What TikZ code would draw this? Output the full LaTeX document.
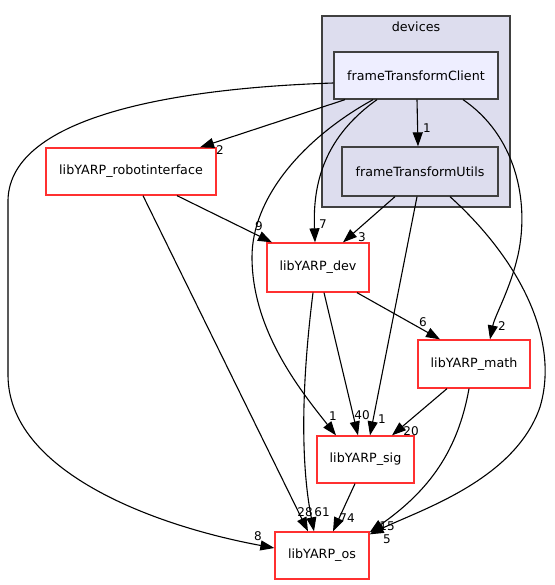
\documentclass[tikz,border=0pt]{standalone}
\usepackage{fontspec}
\setmainfont{DejaVu Sans}
\usetikzlibrary{arrows.meta}
\definecolor{clusterfill}{HTML}{DDDDEE}
\definecolor{dirfill}{HTML}{EEEEFF}
\definecolor{dirborder}{HTML}{404040}
\definecolor{pkgred}{HTML}{FF3030}
\newcommand\nodefnt{\fontsize{12.7}{15}\selectfont}
\newcommand\lblfnt{\fontsize{12}{13}\selectfont}
\begin{document}
\begin{tikzpicture}[x=1pt,y=-1pt,
  pkg/.style={draw=pkgred,line width=1.3pt,fill=white,inner sep=0pt,font=\nodefnt},
  dirnode/.style={draw=dirborder,line width=1.3pt,inner sep=0pt,font=\nodefnt},
  clusterbox/.style={draw=dirborder,line width=1.2pt,fill=clusterfill,inner sep=0pt},
  edge/.style={-{Triangle[length=14pt,width=10pt]},line width=1.1pt},
  lbl/.style={font=\lblfnt,inner sep=0pt}]
\useasboundingbox (0,0) rectangle (554,585);
% cluster
\node[clusterbox,minimum width=188pt,minimum height=191pt] (devices) at (416,111.5) {};
\node[font=\nodefnt,inner sep=0pt] (devlbl) at (416,27) {devices};
% nodes
\node[dirnode,fill=dirfill,minimum width=164pt,minimum height=47pt] (client) at (416,75.5) {frameTransformClient};
\node[dirnode,fill=clusterfill,minimum width=156pt,minimum height=49pt] (utils) at (420,171.5) {frameTransformUtils};
\node[pkg,minimum width=170pt,minimum height=47pt] (robot) at (131,171.5) {libYARP\_robotinterface};
\node[pkg,minimum width=102pt,minimum height=49pt] (dev) at (318,267.5) {libYARP\_dev};
\node[pkg,minimum width=112pt,minimum height=48pt] (math) at (474,364) {libYARP\_math};
\node[pkg,minimum width=97pt,minimum height=47pt] (sig) at (365.5,459.5) {libYARP\_sig};
\node[pkg,minimum width=94pt,minimum height=47pt] (os) at (322,555.5) {libYARP\_os};
% edges
\draw[edge] ([yshift=-7.5pt]client.west) .. controls (180,88) and (10,115) .. (8,200)
  -- (8,375) .. controls (8,470) and (150,525) .. ([yshift=7.5pt]os.west);
\draw[edge] ([xshift=-71pt]client.south) -- ([xshift=69pt]robot.north);
\draw[edge] ([xshift=1pt]client.south) -- ([xshift=-2pt]utils.north);
\draw[edge] ([xshift=-39pt]client.south) .. controls (320,140) and (313,190) .. ([xshift=-3pt]dev.north);
\draw[edge] ([xshift=-43pt]client.south) .. controls (300,140) and (252,200) .. (252,257)
  .. controls (252,330) and (300,390) .. ([xshift=-29.5pt]sig.north);
\draw[edge] ([xshift=47pt]client.south) .. controls (515,135) and (530,200) .. (518,255)
  .. controls (510,290) and (495,315) .. ([xshift=16pt]math.north);
\draw[edge] ([xshift=46pt]robot.south) -- ([xshift=-46pt]dev.north);
\draw[edge] ([xshift=12pt]robot.south) -- ([xshift=-14pt]os.north);
\draw[edge] ([xshift=-25pt]utils.south) -- ([xshift=25pt]dev.north);
\draw[edge] ([xshift=-3pt]utils.south) -- ([xshift=4.5pt]sig.north);
\draw[edge] ([xshift=30pt]utils.south) .. controls (520,260) and (560,340) .. (540,407)
  .. controls (515,480) and (420,510) .. ([yshift=-3pt]os.north east);
\draw[edge] ([xshift=39pt]dev.south) -- ([xshift=-34pt]math.north);
\draw[edge] ([xshift=6pt]dev.south) -- ([xshift=-7.5pt]sig.north);
\draw[edge] ([xshift=-5pt]dev.south) .. controls (302,380) and (300,460) .. ([xshift=-8pt]os.north);
\draw[edge] ([xshift=-27pt]math.south) -- ([xshift=26.5pt]sig.north);
\draw[edge] ([xshift=-5pt]math.south) .. controls (458,450) and (430,490) .. ([yshift=-1pt]os.north east);
\draw[edge] ([xshift=-10.5pt]sig.south) -- ([xshift=11pt]os.north);
% labels
\node[lbl] (l1) at (258,536) {8};
\node[lbl] (l2) at (220,150) {2};
\node[lbl] (l3) at (427,128) {1};
\node[lbl] (l4) at (323,224) {7};
\node[lbl] (l5) at (333,416) {1};
\node[lbl] (l6) at (502,326) {2};
\node[lbl] (l7) at (259,226) {9};
\node[lbl] (l8) at (305,512) {28};
\node[lbl] (l9) at (362,237) {3};
\node[lbl] (l10) at (382,419) {1};
\node[lbl] (l11) at (387,539.5) {5};
\node[lbl] (l12) at (423,322) {6};
\node[lbl] (l13) at (362,415) {40};
\node[lbl] (l14) at (322,512) {61};
\node[lbl] (l15) at (411,431) {20};
\node[lbl] (l16) at (387,526) {15};
\node[lbl] (l17) at (347,518) {74};
\end{tikzpicture}
\end{document}
